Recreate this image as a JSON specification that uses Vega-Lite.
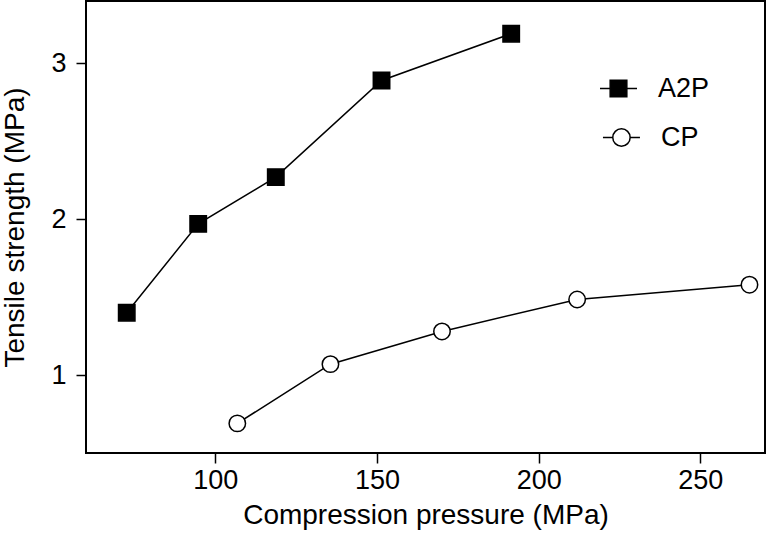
{
  "$schema": "https://vega.github.io/schema/vega-lite/v6.json",
  "width": 679,
  "height": 452,
  "autosize": "none",
  "padding": {"left": 86, "top": 1, "right": 2, "bottom": 82},
  "background": "white",
  "config": {
    "view": {"stroke": "black", "strokeWidth": 2},
    "font": "Liberation Sans",
    "axis": {
      "grid": false,
      "domain": false,
      "tickColor": "black",
      "tickWidth": 1.5,
      "tickSize": 10,
      "labelColor": "black",
      "labelFont": "Liberation Sans",
      "labelFontSize": 27,
      "titleColor": "black",
      "titleFont": "Liberation Sans",
      "titleFontSize": 28,
      "titleFontWeight": "normal"
    }
  },
  "data": {
    "values": [
      {"series": "A2P", "pressure": 72.6, "strength": 1.40},
      {"series": "A2P", "pressure": 94.7, "strength": 1.97},
      {"series": "A2P", "pressure": 118.7, "strength": 2.27},
      {"series": "A2P", "pressure": 151.4, "strength": 2.89},
      {"series": "A2P", "pressure": 191.5, "strength": 3.19},
      {"series": "CP", "pressure": 106.8, "strength": 0.69},
      {"series": "CP", "pressure": 135.6, "strength": 1.07},
      {"series": "CP", "pressure": 170.1, "strength": 1.28},
      {"series": "CP", "pressure": 211.9, "strength": 1.485},
      {"series": "CP", "pressure": 265.2, "strength": 1.58}
    ]
  },
  "encoding": {
    "x": {
      "field": "pressure",
      "type": "quantitative",
      "title": "Compression pressure (MPa)",
      "scale": {"domain": [60, 270], "nice": false, "zero": false},
      "axis": {"values": [100, 150, 200, 250], "labelPadding": 4, "titlePadding": 8}
    },
    "y": {
      "field": "strength",
      "type": "quantitative",
      "title": "Tensile strength (MPa)",
      "scale": {"domain": [0.5, 3.4], "nice": false, "zero": false},
      "axis": {"values": [1, 2, 3], "labelPadding": 10, "titlePadding": 21}
    }
  },
  "layer": [
    {
      "mark": {"type": "line", "color": "black", "strokeWidth": 1.5},
      "encoding": {"detail": {"field": "series", "type": "nominal"}}
    },
    {
      "mark": {"type": "point", "filled": true, "stroke": "black", "strokeWidth": 1.5, "opacity": 1, "size": 270},
      "encoding": {
        "shape": {
          "field": "series",
          "type": "nominal",
          "scale": {"domain": ["A2P", "CP"], "range": ["square", "circle"]},
          "legend": null
        },
        "fill": {
          "field": "series",
          "type": "nominal",
          "scale": {"domain": ["A2P", "CP"], "range": ["black", "white"]},
          "legend": null
        }
      }
    },
    {
      "mark": {"type": "point", "filled": true, "stroke": "black", "strokeWidth": 1.5, "opacity": 0, "size": 1369},
      "encoding": {
        "shape": {
          "field": "series",
          "type": "nominal",
          "scale": {"domain": ["A2P", "CP"], "range": ["M-1,0L-0.45,0M0.45,0L1,0M-0.45,-0.45L0.45,-0.45L0.45,0.45L-0.45,0.45Z", "M-0.84,0L-0.31,0M0.63,0L1.16,0M0.63,0A0.47,0.47 0 1,1 -0.31,0A0.47,0.47 0 1,1 0.63,0Z"]},
          "legend": {
            "title": null,
            "orient": "none",
            "legendX": 513,
            "legendY": 68,
            "padding": 0,
            "symbolSize": 1369,
            "symbolOpacity": 1,
            "symbolStrokeColor": "black",
            "symbolStrokeWidth": 1.5,
            "labelFont": "Liberation Sans",
            "labelFontSize": 27,
            "labelColor": "black",
            "labelOffset": 20,
            "rowPadding": 16,
            "encode": {
              "symbols": {
                "update": {
                  "stroke": {"value": "black"},
                  "strokeWidth": {"value": 1.5},
                  "strokeOpacity": {"value": 1},
                  "opacity": {"value": 1}
                }
              },
              "labels": {
                "update": {
                  "dx": {"signal": "datum.value === 'CP' ? 3 : 0"}
                }
              }
            }
          }
        },
        "fill": {
          "field": "series",
          "type": "nominal",
          "scale": {"domain": ["A2P", "CP"], "range": ["black", "white"]},
          "legend": {
            "title": null,
            "orient": "none",
            "legendX": 513,
            "legendY": 68,
            "padding": 0,
            "symbolSize": 1369,
            "symbolOpacity": 1,
            "symbolStrokeColor": "black",
            "symbolStrokeWidth": 1.5,
            "labelFont": "Liberation Sans",
            "labelFontSize": 27,
            "labelColor": "black",
            "labelOffset": 20,
            "rowPadding": 16,
            "encode": {
              "symbols": {
                "update": {
                  "stroke": {"value": "black"},
                  "strokeWidth": {"value": 1.5},
                  "strokeOpacity": {"value": 1},
                  "opacity": {"value": 1}
                }
              },
              "labels": {
                "update": {
                  "dx": {"signal": "datum.value === 'CP' ? 3 : 0"}
                }
              }
            }
          }
        }
      }
    }
  ],
  "resolve": {"scale": {"shape": "independent", "fill": "independent"}, "legend": {"shape": "independent", "fill": "independent"}}
}
